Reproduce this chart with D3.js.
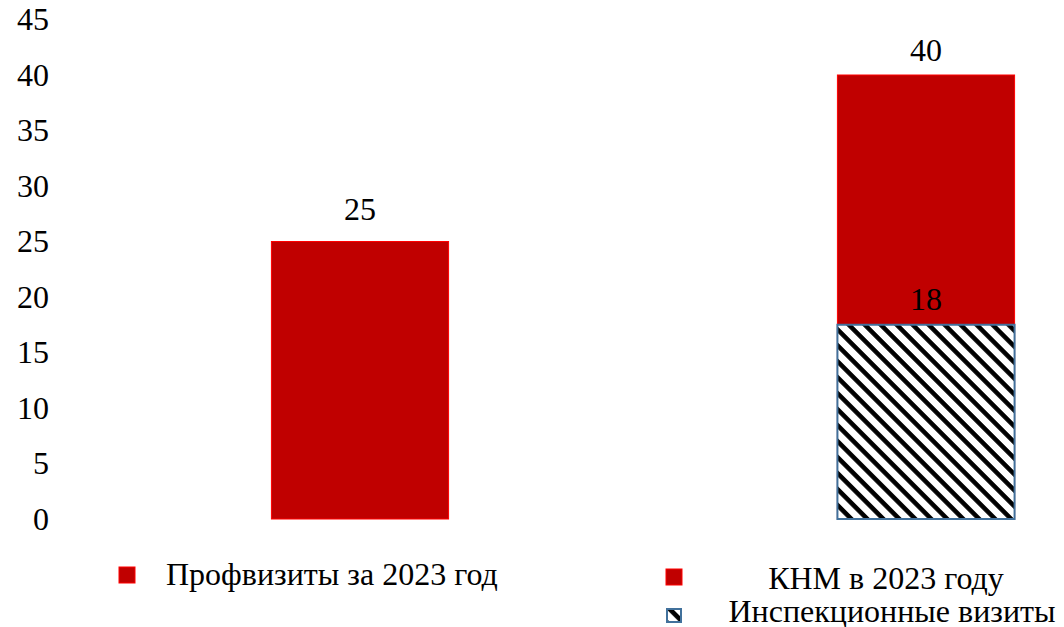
<!DOCTYPE html>
<html><head><meta charset="utf-8">
<script src="https://cdn.jsdelivr.net/npm/d3@7"></script>
</head>
<body style="margin:0;background:#fff">
<svg id="c" width="1064" height="627" font-family="Liberation Serif" font-size="32"></svg>
<script>
const categories = ["Профвизиты", "КНМ"];
const mainValues = [25, 40];
const inspectionValues = [null, 17.5];
const tickValues = [0, 5, 10, 15, 20, 25, 30, 35, 40, 45];
const legendLeft = ["Профвизиты за 2023 год"];
const legendRight = ["КНМ в 2023 году", "Инспекционные визиты"];

const FONT = "Liberation Serif";
const labelGap = [22, 14];
const svg = d3.select("#c");
const defs = svg.append("defs");
const pat = defs.append("pattern").attr("id","hatch").attr("patternUnits","userSpaceOnUse")
  .attr("width",11.3).attr("height",11.3).attr("patternTransform","rotate(45)");
pat.append("rect").attr("width",11.3).attr("height",11.3).attr("fill","#fff");
pat.append("rect").attr("x",0).attr("y",0).attr("width",11.3).attr("height",4.6).attr("fill","#000");

const y = d3.scaleLinear().domain([0,45]).range([519,19.5]);
const x = d3.scaleBand().domain(categories).range([77,1209]).paddingInner(0.687).paddingOuter(0.3435);

// y axis labels
const axis = d3.axisLeft(y).tickValues(tickValues).tickSize(0).tickPadding(0);
const ga = svg.append("g").attr("transform","translate(49,0)").call(axis);
ga.attr("font-family",FONT).attr("font-size",32);
ga.select(".domain").remove();
ga.selectAll("text").attr("font-family",FONT).attr("font-size",32).attr("fill","#000");

// main bars
svg.selectAll("rect.main").data(categories).enter().append("rect").attr("class","main")
  .attr("x",d=>x(d)).attr("width",x.bandwidth())
  .attr("y",(d,i)=>y(mainValues[i])).attr("height",(d,i)=>y(0)-y(mainValues[i]))
  .attr("fill","#C00000").attr("stroke","#FF0000").attr("stroke-width",1);

// inspection bar
const insp = categories.map((c,i)=>({c,v:inspectionValues[i]})).filter(d=>d.v!=null);
svg.selectAll("rect.insp").data(insp).enter().append("rect").attr("class","insp")
  .attr("x",d=>x(d.c)).attr("width",x.bandwidth())
  .attr("y",d=>y(d.v)).attr("height",d=>y(0)-y(d.v))
  .attr("fill","url(#hatch)").attr("stroke","#41719C").attr("stroke-width",2);

// labels
const fmt = d3.format(".0f");
svg.selectAll("text.lbl").data(categories).enter().append("text").attr("class","lbl")
  .attr("x",d=>x(d)+x.bandwidth()/2).attr("y",(d,i)=>y(mainValues[i])-labelGap[i])
  .attr("text-anchor","middle").attr("font-family",FONT).attr("font-size",32).text((d,i)=>fmt(mainValues[i]));
svg.selectAll("text.lbl2").data(insp).enter().append("text").attr("class","lbl2")
  .attr("x",d=>x(d.c)+x.bandwidth()/2).attr("y",d=>y(d.v)-15)
  .attr("text-anchor","middle").attr("font-family",FONT).attr("font-size",32).text(d=>fmt(d.v));

// legend left
svg.append("rect").attr("x",119).attr("y",567).attr("width",16).attr("height",16)
  .attr("fill","#C00000").attr("stroke","#FF0000").attr("stroke-width",1);
svg.append("text").attr("x",166).attr("y",585).attr("font-family",FONT).attr("font-size",32).text(legendLeft[0]);

// legend right
svg.append("rect").attr("x",666).attr("y",569).attr("width",16).attr("height",16)
  .attr("fill","#C00000").attr("stroke","#FF0000").attr("stroke-width",1);
svg.append("text").attr("x",886).attr("y",589).attr("text-anchor","middle").attr("font-family",FONT).attr("font-size",32).text(legendRight[0]);
svg.append("rect").attr("x",667).attr("y",609).attr("width",14).attr("height",13)
  .attr("fill","url(#hatch)").attr("stroke","#41719C").attr("stroke-width",2);
svg.append("text").attr("x",892).attr("y",622).attr("text-anchor","middle").attr("font-family",FONT).attr("font-size",32).text(legendRight[1]);
</script></body></html>
